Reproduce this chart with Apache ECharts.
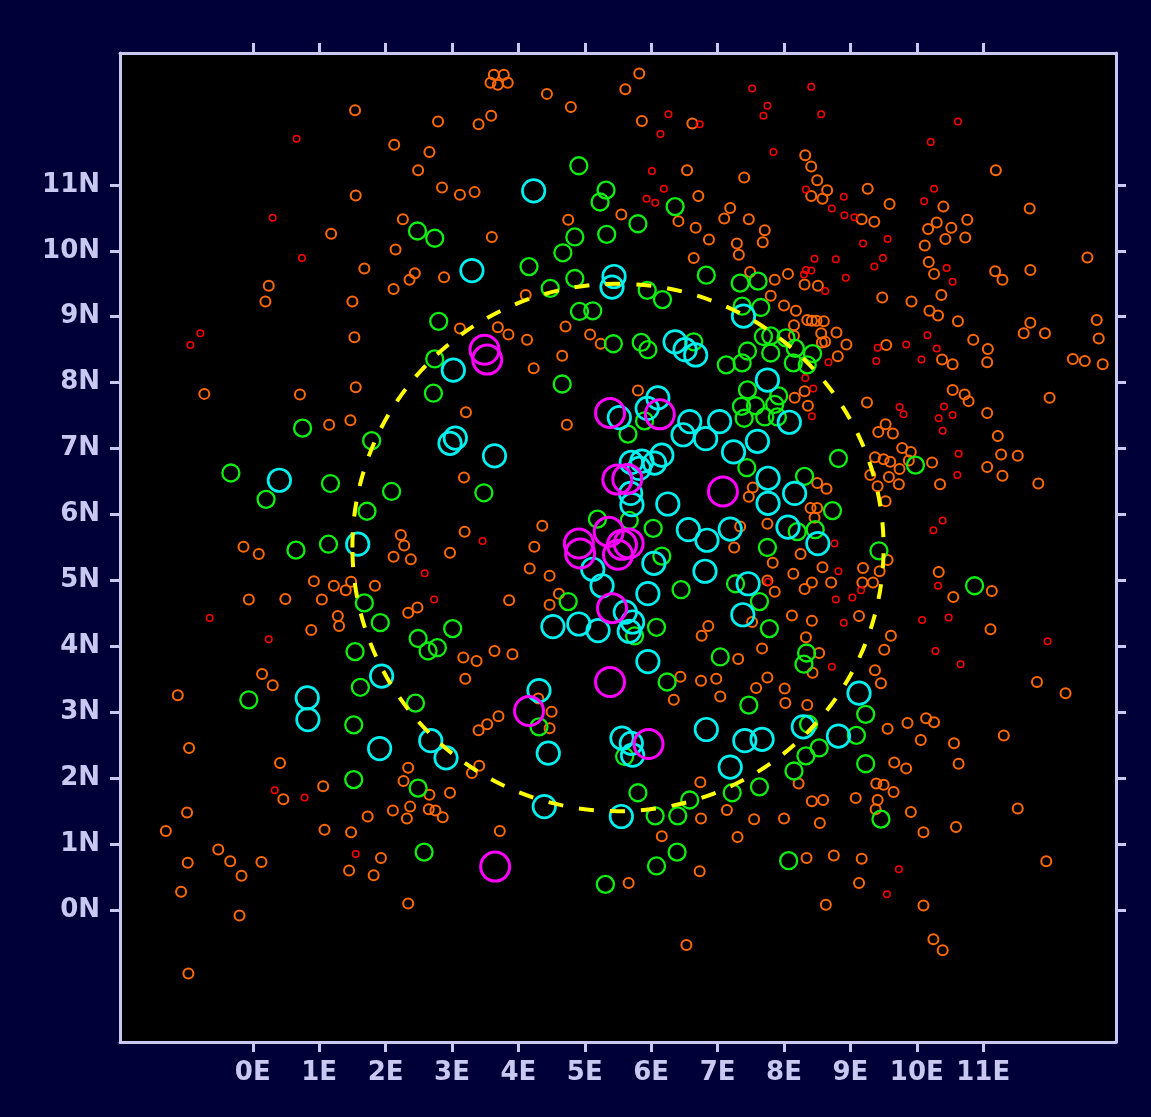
<!DOCTYPE html>
<html><head><meta charset="utf-8">
<script src="https://cdn.jsdelivr.net/npm/echarts@6/dist/echarts.min.js"></script>
<style>html,body{margin:0;padding:0;background:#000038;}#c{width:1151px;height:1117px;}</style>
</head><body><div id="c"></div>
<script>
const xTickValues = [0,1,2,3,4,5,6,7,8,9,10,11];
const yTickValues = [0,1,2,3,4,5,6,7,8,9,10,11];
const circleCenter = [5.5, 5.5];
const circleRadius = 4;

const redPoints = [[0.66,11.70],[0.30,10.50],[0.74,9.89],[-0.79,8.75],[-0.94,8.57],[7.52,12.46],[8.41,12.49],[7.75,12.20],[7.69,12.05],[8.56,12.07],[6.26,12.07],[6.73,11.92],[6.14,11.77],[7.84,11.50],[8.33,10.93],[8.90,10.82],[8.72,10.64],[8.91,10.54],[9.06,10.51],[9.19,10.11],[6.01,11.21],[6.19,10.94],[5.93,10.79],[6.06,10.73],[8.46,9.88],[8.78,9.87],[8.93,9.59],[8.33,9.71],[8.41,9.70],[8.30,9.64],[8.62,9.39],[8.67,8.31],[10.62,11.96],[10.21,11.65],[10.26,10.94],[10.11,10.75],[9.56,10.18],[9.49,9.89],[9.36,9.76],[10.45,9.74],[10.54,9.53],[10.16,8.72],[9.84,8.58],[9.41,8.53],[10.30,8.52],[9.39,8.33],[10.07,8.35],[9.74,7.63],[9.80,7.52],[10.41,7.64],[10.33,7.46],[10.54,7.51],[10.39,7.27],[10.63,6.92],[10.61,6.60],[10.39,5.91],[10.25,5.76],[10.32,4.92],[10.08,4.40],[10.48,4.44],[10.28,3.93],[10.66,3.73],[11.97,4.08],[9.73,0.62],[9.55,0.24],[8.32,8.07],[8.44,7.91],[8.42,7.49],[8.76,5.56],[8.82,5.14],[9.16,4.85],[7.76,4.98],[8.78,4.71],[9.03,4.74],[8.90,4.36],[8.72,3.69],[-0.65,4.43],[0.24,4.11],[3.46,5.60],[2.59,5.11],[2.73,4.71],[0.33,1.82],[0.78,1.71],[1.55,0.85]];

const orangePoints = [[1.54,12.13],[1.55,10.84],[1.18,10.26],[0.24,9.47],[0.19,9.23],[1.50,9.23],[1.53,8.69],[1.68,9.73],
[3.63,12.67],[3.78,12.67],[3.58,12.55],[3.69,12.52],[3.84,12.55],[4.43,12.38],[4.79,12.18],[2.79,11.96],[3.59,12.05],[3.40,11.92],[2.13,11.61],[2.66,11.50],[2.49,11.22],[2.85,10.96],[3.12,10.85],[3.34,10.89],[2.26,10.48],[3.60,10.21],[4.75,10.47],[2.15,10.02],[2.44,9.66],[2.36,9.56],[2.88,9.60],[2.12,9.42],[4.11,9.33],[3.12,8.82],[3.69,8.84],[3.85,8.73],[4.13,8.65],[4.71,8.85],[5.08,8.73],[5.24,8.59],[4.66,8.41],[4.23,8.22],
[5.82,12.69],[5.61,12.45],[5.86,11.97],[6.62,11.93],[8.32,11.45],[8.41,11.28],[8.50,11.07],[8.65,10.92],[8.41,10.83],[8.58,10.79],[9.26,10.94],[9.17,10.48],[9.36,10.44],[6.54,11.22],[7.40,11.11],[6.71,10.83],[5.55,10.55],[6.41,10.45],[7.19,10.65],[7.10,10.49],[7.47,10.48],[6.67,10.35],[6.87,10.17],[7.71,10.31],[7.68,10.13],[7.29,10.11],[7.32,9.94],[6.64,9.89],[7.49,9.68],[7.86,9.56],[8.06,9.65],[8.31,9.49],[8.51,9.47],[7.80,9.32],[8.00,9.17],[8.18,9.09],[8.15,8.87],[8.35,8.95],[8.42,8.94],[8.49,8.94],[8.60,8.93],[8.79,8.76],[8.56,8.75],[8.62,8.62],[8.57,8.61],[8.94,8.58],[8.81,8.40],[8.15,8.71],
[11.19,11.22],[9.59,10.71],[10.40,10.67],[11.70,10.64],[10.30,10.43],[10.17,10.33],[10.52,10.35],[10.76,10.47],[10.73,10.20],[10.43,10.18],[10.12,10.08],[10.18,9.83],[10.26,9.65],[11.18,9.69],[11.29,9.56],[11.71,9.71],[12.57,9.90],[9.48,9.29],[9.92,9.23],[10.37,9.33],[10.19,9.09],[10.32,9.02],[10.62,8.93],[11.71,8.91],[11.61,8.75],[11.93,8.75],[12.71,8.95],[12.74,8.67],[9.54,8.57],[10.38,8.35],[10.54,8.28],[10.85,8.65],[11.07,8.51],[11.06,8.31],[12.35,8.36],[12.53,8.33],[12.80,8.28],
[-0.73,7.83],[0.71,7.82],[1.55,7.93],[1.15,7.36],[1.47,7.43],[-0.14,5.51],[0.09,5.40],[0.92,4.99],[1.22,4.92],[1.40,4.85],[1.48,4.98],[-0.06,4.71],[0.49,4.72],[1.04,4.71],[1.28,4.46],[1.30,4.31],[0.88,4.25],[0.14,3.58],[0.30,3.41],[-1.13,3.26],
[3.21,7.55],[4.73,7.36],[3.18,6.56],[2.23,5.69],[2.28,5.53],[2.12,5.36],[2.38,5.32],[3.19,5.74],[2.97,5.42],[1.84,4.92],[4.36,5.83],[4.24,5.51],[4.17,5.18],[4.47,5.07],[4.61,4.80],[4.47,4.63],[3.86,4.70],[2.48,4.59],[2.34,4.51],[3.17,3.83],[3.37,3.78],[3.64,3.93],[3.91,3.88],[3.20,3.51],[4.30,3.21],
[5.80,7.88],[8.16,7.77],[8.31,7.87],[8.36,7.65],[9.25,7.70],[8.50,6.48],[8.64,6.39],[7.53,6.41],[7.47,6.27],[8.40,6.10],[8.50,6.10],[8.46,5.95],[7.34,5.82],[7.75,5.86],[7.25,5.50],[8.25,5.40],[7.83,5.27],[8.58,5.20],[9.19,5.19],[8.14,5.10],[8.42,4.97],[8.31,4.87],[8.71,4.97],[9.18,4.97],[7.75,5.00],[7.86,4.83],[7.52,4.37],[9.13,4.46],[8.12,4.47],[8.42,4.39],[8.33,4.14],[6.86,4.31],[6.76,4.16],[7.31,3.81],[7.67,3.97],[8.53,3.90],[8.43,3.60],[6.44,3.54],[6.34,3.19],[6.75,3.48],[6.98,3.51],[7.04,3.24],[7.75,3.53],[7.58,3.37],[8.01,3.36],[8.02,3.14],[8.35,3.11],
[10.54,7.89],[10.72,7.82],[10.78,7.72],[11.06,7.54],[12.00,7.77],[9.53,7.37],[9.42,7.25],[9.64,7.23],[11.22,7.19],[9.78,7.01],[9.91,6.95],[9.37,6.87],[9.50,6.84],[9.60,6.80],[9.74,6.69],[9.88,6.82],[10.23,6.79],[11.27,6.91],[11.52,6.89],[11.06,6.72],[11.29,6.59],[11.83,6.47],[9.58,6.57],[9.41,6.43],[9.73,6.46],[10.35,6.46],[9.30,6.60],[9.53,6.20],[9.56,5.31],[9.44,5.14],[9.34,4.97],[10.33,5.13],[11.13,4.84],[10.55,4.75],[11.11,4.26],[9.61,4.16],[9.51,3.95],[9.37,3.64],[9.46,3.44],[11.81,3.46],[12.24,3.29],
[-0.96,2.46],[0.41,2.23],[1.06,1.88],[0.46,1.68],[-0.99,1.48],[-1.31,1.20],[1.08,1.22],[1.48,1.18],[1.45,0.60],[-0.52,0.92],[-0.34,0.74],[-0.17,0.52],[0.13,0.73],[-0.98,0.72],[-1.08,0.28],[-0.20,-0.08],[-0.97,-0.96],
[4.47,2.76],[4.50,3.01],[3.70,2.94],[3.53,2.82],[3.40,2.73],[2.34,2.16],[2.27,1.96],[2.66,1.75],[2.97,1.78],[3.41,2.19],[3.30,2.08],[2.37,1.57],[2.11,1.51],[2.32,1.39],[2.65,1.53],[2.75,1.51],[2.86,1.41],[1.73,1.42],[3.72,1.20],[1.93,0.79],[1.82,0.53],[2.34,0.10],
[8.22,1.92],[6.74,1.94],[8.42,1.65],[8.59,1.67],[9.08,1.70],[6.75,1.39],[7.14,1.52],[7.55,1.38],[8.00,1.39],[8.54,1.32],[6.16,1.12],[7.30,1.11],[6.73,0.59],[8.34,0.79],[8.75,0.83],[9.17,0.78],[9.13,0.41],[5.66,0.41],[8.63,0.08],[6.53,-0.53],
[9.56,2.75],[9.86,2.84],[10.14,2.91],[10.26,2.85],[10.06,2.58],[10.56,2.53],[11.31,2.65],[9.66,2.24],[9.84,2.15],[10.63,2.22],[9.39,1.92],[9.50,1.90],[9.65,1.79],[9.41,1.67],[9.38,1.53],[9.91,1.49],[10.59,1.26],[10.10,1.18],[11.52,1.54],[11.95,0.74],[10.10,0.07],[10.25,-0.44],[10.39,-0.61]];

const greenPoints = [[4.91,11.29],[5.32,10.92],[5.23,10.74],[2.48,10.30],[2.74,10.19],[4.85,10.21],[5.33,10.25],[4.67,9.97],[4.16,9.76],[4.85,9.58],[4.48,9.43],[4.92,9.08],[5.12,9.09],[2.80,8.93],[2.74,8.36],[5.43,8.59],
[6.36,10.67],[5.80,10.41],[6.83,9.63],[7.34,9.51],[7.61,9.54],[5.94,9.40],[6.17,9.26],[7.37,9.16],[7.65,9.14],[7.69,8.70],[7.80,8.71],[8.03,8.68],[8.17,8.52],[8.43,8.44],[8.14,8.30],[8.35,8.27],[7.80,8.45],[7.45,8.48],[7.37,8.30],[7.13,8.27],[6.64,8.62],[5.85,8.61],[5.95,8.50],
[0.75,7.31],[-0.33,6.63],[1.17,6.47],[0.20,6.23],[1.72,6.05],[0.65,5.46],[1.14,5.55],[1.68,4.66],[1.54,3.92],[-0.06,3.19],[1.62,3.38],
[4.66,7.98],[2.72,7.84],[1.79,7.12],[3.48,6.33],[2.09,6.35],[5.19,5.93],[4.75,4.68],[1.92,4.36],[3.01,4.27],[2.49,4.12],[2.64,3.93],[2.78,3.98],[2.45,3.14],
[5.90,7.42],[5.65,7.22],[7.44,6.71],[5.67,5.91],[7.45,7.89],[7.92,7.80],[7.36,7.64],[7.57,7.65],[7.86,7.67],[7.40,7.46],[7.71,7.48],[7.90,7.48],[8.82,6.85],[8.31,6.58],[8.73,6.06],[8.20,5.74],[8.47,5.77],[6.03,5.79],[7.75,5.50],[6.16,5.37],[7.27,4.95],[6.45,4.86],[7.63,4.68],[7.78,4.27],[6.08,4.29],[5.75,4.16],[7.04,3.84],[8.34,3.90],[8.30,3.73],[6.24,3.46],[7.47,3.11],
[9.98,6.75],[9.43,5.45],[10.87,4.92],
[1.52,2.81],[1.52,1.98],[4.31,2.78],[2.49,1.85],[2.58,0.88],[5.31,0.39],
[5.60,2.33],[8.37,2.82],[9.09,2.65],[9.23,2.97],[8.53,2.46],[8.33,2.34],[8.15,2.11],[9.23,2.22],[5.80,1.78],[6.58,1.67],[7.22,1.78],[7.63,1.87],[6.06,1.43],[6.40,1.43],[6.39,0.88],[6.08,0.67],[8.07,0.75],[9.46,1.38]];

const cyanPoints = [[4.23,10.91],[3.30,9.70],[5.44,9.61],[5.41,9.45],[3.02,8.19],
[7.39,9.01],[6.36,8.62],[6.51,8.50],[6.67,8.42],[7.75,8.04],
[0.40,6.52],[1.58,5.55],[0.82,3.22],[0.83,2.89],
[2.97,7.08],[3.05,7.16],[3.64,6.89],[5.12,5.17],[5.26,4.92],[4.52,4.30],[4.91,4.34],[5.20,4.24],[1.94,3.55],[4.31,3.33],
[6.10,7.77],[5.94,7.61],[5.52,7.47],[6.58,7.41],[7.03,7.41],[6.48,7.21],[6.82,7.15],[7.24,6.95],[7.60,7.11],[6.16,6.90],[6.05,6.78],[5.86,6.81],[5.70,6.79],[5.82,6.70],[5.69,6.32],[5.71,6.15],[6.25,6.16],[8.08,7.40],[7.76,6.55],[8.16,6.32],[7.76,6.17],[6.56,5.77],[6.84,5.61],[7.19,5.78],[8.06,5.81],[8.51,5.56],[6.04,5.26],[6.81,5.14],[7.46,4.95],[5.95,4.80],[7.38,4.48],[5.61,4.52],[5.72,4.37],[5.67,4.23],[5.95,3.77],[9.13,3.29],
[1.91,2.45],[2.68,2.57],[2.91,2.31],[4.45,2.38],[4.39,1.57],[5.56,2.61],[5.70,2.53],[5.72,2.35],[6.83,2.74],[7.41,2.57],[7.67,2.59],[7.19,2.17],[8.29,2.78],[8.82,2.64],[5.55,1.42]];

const magentaPoints = [[3.49,8.50],[3.53,8.35],[5.38,7.54],[6.13,7.52],[5.49,6.53],[5.64,6.54],[7.08,6.35],[4.91,5.56],[4.93,5.41],[5.36,5.74],[5.56,5.54],[5.66,5.56],[5.50,5.39],[5.41,4.58],[5.38,3.46],[5.96,2.52],[4.16,3.02],[3.65,0.66]];

const axisColor = '#c8c8f0';
const labelFont = { color: axisColor, fontSize: 26, fontWeight: 'bold', fontFamily: 'DejaVu Sans, sans-serif' };
function scatter(name, data, color, size, width) {
  return { name, type: 'scatter', data, symbol: 'circle', symbolSize: size,
    itemStyle: { color: 'rgba(0,0,0,0)', borderColor: color, borderWidth: width, opacity: 1 },
    emphasis: { disabled: true }, silent: true };
}
function xAx(pos, showLabel) {
  return { type: 'value', min: -2, max: 13, position: pos, gridIndex: 0,
    axisLine: { show: true, onZero: false, lineStyle: { color: axisColor, width: 3 } },
    axisTick: { show: true, inside: false, length: 10, lineStyle: { color: axisColor, width: 3 }, customValues: xTickValues },
    axisLabel: Object.assign({ show: showLabel, customValues: xTickValues, formatter: v => v + 'E', margin: 18 }, labelFont),
    splitLine: { show: false } };
}
function yAx(pos, showLabel) {
  return { type: 'value', min: -2, max: 13, position: pos, gridIndex: 0,
    axisLine: { show: true, onZero: false, lineStyle: { color: axisColor, width: 3 } },
    axisTick: { show: true, inside: false, length: 10, lineStyle: { color: axisColor, width: 3 }, customValues: yTickValues },
    axisLabel: Object.assign({ show: showLabel, customValues: yTickValues, formatter: v => v + 'N', margin: 20 }, labelFont),
    splitLine: { show: false } };
}
const chart = echarts.init(document.getElementById('c'), null, { renderer: 'canvas' });
chart.setOption({
  animation: false,
  backgroundColor: '#000038',
  grid: { left: 120, right: 35, top: 53, bottom: 75, show: true, backgroundColor: '#000000', borderWidth: 0 },
  xAxis: [xAx('bottom', true), xAx('top', false)],
  yAxis: [yAx('left', true), yAx('right', false)],
  series: [
    scatter('orange', orangePoints, '#ff6a00', 10, 2),
    scatter('red', redPoints, '#ff0000', 6.5, 1.5),
    scatter('green', greenPoints, '#11ee11', 17, 2.3),
    scatter('cyan', cyanPoints, '#00f0f0', 22.5, 2.7),
    scatter('magenta', magentaPoints, '#ff00ff', 29, 3),
    { type: 'custom', data: [[circleCenter[0], circleCenter[1], circleRadius]], silent: true, z: 10,
      renderItem: function (params, api) {
        const c = api.coord([api.value(0), api.value(1)]);
        const s = api.size([api.value(2), api.value(2)]);
        return { type: 'ellipse', shape: { cx: c[0], cy: c[1], rx: s[0], ry: s[1] },
          style: { fill: 'none', stroke: '#ffff00', lineWidth: 4, lineDash: [15, 16] } };
      } }
  ]
});
</script></body></html>
